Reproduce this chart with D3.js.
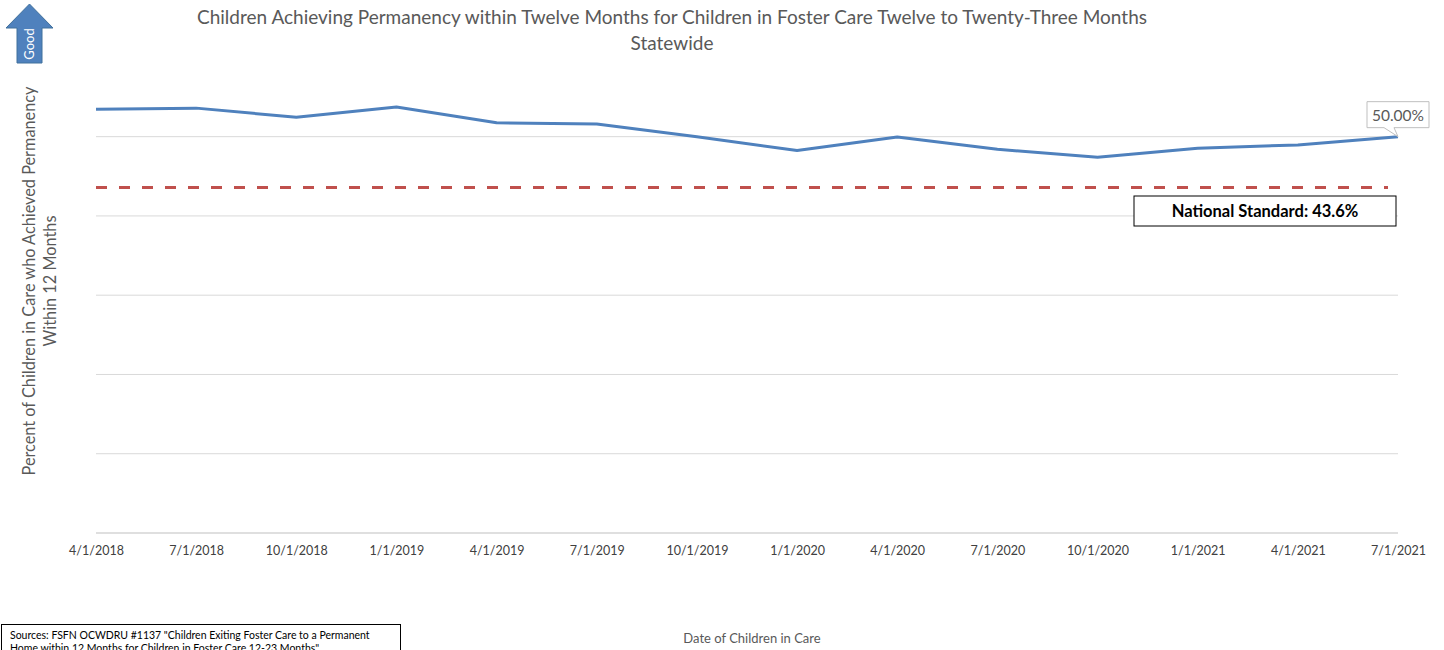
<!DOCTYPE html>
<html>
<head>
<meta charset="utf-8">
<script src="https://cdn.jsdelivr.net/npm/d3@7"></script>
<style>
  html, body { margin: 0; padding: 0; background: #fff; }
  svg { display: block; }
  text { font-family: Lato, "Open Sans", sans-serif; }
</style>
</head>
<body>
<svg id="chart" width="1444" height="650"></svg>
<script>
const categories = ["4/1/2018","7/1/2018","10/1/2018","1/1/2019","4/1/2019","7/1/2019","10/1/2019","1/1/2020","4/1/2020","7/1/2020","10/1/2020","1/1/2021","4/1/2021","7/1/2021"];
const values = [53.45, 53.6, 52.45, 53.75, 51.75, 51.6, 50.0, 48.25, 49.95, 48.4, 47.4, 48.55, 48.95, 50.0];
const nationalStandard = 43.6;
const gridTicks = [0, 10, 20, 30, 40, 50];
const yDomain = [0, 60];
const titleLines = ["Children Achieving Permanency within Twelve Months for Children in Foster Care Twelve to Twenty-Three Months", "Statewide"];
const yTitleLines = ["Percent of Children in Care who Achieved Permanency", "Within 12 Months"];
const xTitle = "Date of Children in Care";
const sourceLines = ["Sources: FSFN OCWDRU #1137 \"Children Exiting Foster Care to a Permanent", "Home within 12 Months for Children in Foster Care 12-23 Months\""];

const svg = d3.select("#chart");
const plot = { left: 96, right: 1398, top: 57.4, bottom: 533 };

const x = d3.scalePoint().domain(categories).range([plot.left, plot.right]);
const y = d3.scaleLinear().domain(yDomain).range([plot.bottom, plot.top]);

// gridlines
svg.append("g").selectAll("line").data(gridTicks).join("line")
  .attr("x1", plot.left).attr("x2", plot.right)
  .attr("y1", d => y(d)).attr("y2", d => y(d))
  .attr("stroke", d => d === 0 ? "#bfbfbf" : "#d9d9d9").attr("stroke-width", 1);

// x axis labels
const xAxis = d3.axisBottom(x).tickSize(0).tickPadding(13);
const gx = svg.append("g").attr("transform", `translate(0,${plot.bottom})`).call(xAxis);
gx.select(".domain").remove();
gx.selectAll("text").attr("font-size", 12.5).attr("fill", "#404040").style("font-family", "Lato, sans-serif");

// national standard dashed
svg.append("line")
  .attr("x1", plot.left).attr("x2", 1388)
  .attr("y1", y(nationalStandard)).attr("y2", y(nationalStandard))
  .attr("stroke", "#c0504d").attr("stroke-width", 3).attr("stroke-dasharray", "11,12");

// series line
const line = d3.line().x((d, i) => x(categories[i])).y(d => y(d));
svg.append("path").datum(values)
  .attr("d", line).attr("fill", "none")
  .attr("stroke", "#4f81bd").attr("stroke-width", 3).attr("stroke-linejoin", "round");

// data label callout for last point
const lastX = x(categories[categories.length - 1]);
const lastY = y(values[values.length - 1]);
const bx0 = lastX - 31, bx1 = lastX + 31, by0 = lastY - 35, by1 = lastY - 9;
svg.append("path")
  .attr("d", `M${bx0},${by0} L${bx1},${by0} L${bx1},${by1} L${lastX - 4},${by1} L${lastX},${lastY} L${lastX - 14},${by1} L${bx0},${by1} Z`)
  .attr("fill", "#fff").attr("stroke", "#bfbfbf").attr("stroke-width", 1);
svg.append("text").attr("x", (bx0 + bx1) / 2).attr("y", by1 - 7)
  .attr("text-anchor", "middle").attr("font-size", 15.5).attr("fill", "#595959")
  .text(d3.format(".2f")(values[values.length - 1]) + "%");

// national standard box
svg.append("rect").attr("x", 1134).attr("y", 196).attr("width", 262).attr("height", 30)
  .attr("fill", "#fff").attr("stroke", "#000").attr("stroke-width", 1);
svg.append("text").attr("x", 1265).attr("y", 217).attr("text-anchor", "middle")
  .attr("font-size", 16.5).attr("font-weight", "bold").attr("fill", "#000")
  .text("National Standard: " + nationalStandard + "%");

// title
svg.append("g").selectAll("text").data(titleLines).join("text")
  .attr("x", 672).attr("y", (d, i) => 24 + i * 26)
  .attr("text-anchor", "middle").attr("font-size", 19).attr("fill", "#595959")
  .text(d => d);

// y title
svg.append("g").selectAll("text").data(yTitleLines).join("text")
  .attr("transform", (d, i) => `translate(${35 + i * 21},281) rotate(-90)`)
  .attr("text-anchor", "middle").attr("font-size", 16.3).attr("fill", "#595959")
  .text(d => d);

// x title
svg.append("text").attr("x", 752).attr("y", 643).attr("text-anchor", "middle")
  .attr("font-size", 13).attr("fill", "#595959").text(xTitle);

// Good arrow
svg.append("path")
  .attr("d", "M6,28 L29.5,4 L53,28 L42,28 L42,63 L17,63 L17,28 Z")
  .attr("fill", "#4f81bd").attr("stroke", "#41719c").attr("stroke-width", 1);
svg.append("text").attr("transform", "translate(34,44) rotate(-90)")
  .attr("text-anchor", "middle").attr("font-size", 13).attr("fill", "#fff").text("Good");

// sources box
svg.append("rect").attr("x", 1.5).attr("y", 624.5).attr("width", 399).attr("height", 40)
  .attr("fill", "#fff").attr("stroke", "#000").attr("stroke-width", 1);
svg.append("g").selectAll("text").data(sourceLines).join("text")
  .attr("x", 10).attr("y", (d, i) => 639 + i * 13)
  .attr("font-size", 10.5).attr("fill", "#000").text(d => d);
</script>
</body>
</html>
